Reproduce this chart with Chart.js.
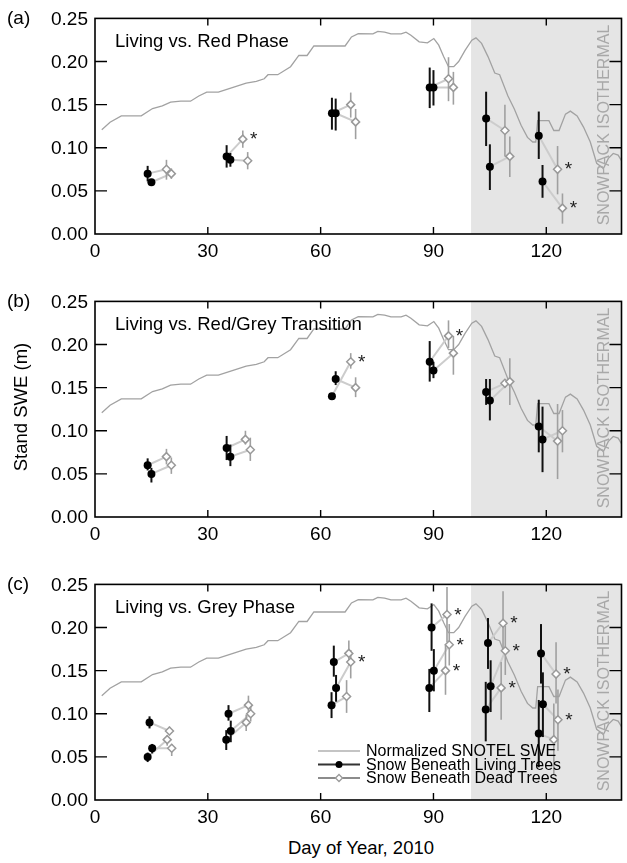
<!DOCTYPE html>
<html><head><meta charset="utf-8">
<script src="https://cdn.jsdelivr.net/npm/chart.js@4.4.1/dist/chart.umd.min.js"></script>
<style>
html,body{margin:0;padding:0;background:#fff;}
body{width:627px;height:863px;position:relative;overflow:hidden;font-family:"Liberation Sans",Arial,Helvetica,sans-serif;color:#000;}
canvas{position:absolute;left:0;}
.lbl{position:absolute;font-size:18.5px;line-height:18px;white-space:nowrap;}
.pl{position:absolute;font-size:19px;line-height:18px;white-space:nowrap;}
.rot{position:absolute;white-space:nowrap;transform:translate(-50%,-50%) rotate(-90deg);line-height:1;}
.ctr{position:absolute;white-space:nowrap;transform:translate(-50%,-50%);line-height:1;}
</style></head><body>
<canvas id="ca" width="627" height="263" style="top:0px"></canvas>
<canvas id="cb" width="627" height="263" style="top:283px"></canvas>
<canvas id="cc" width="627" height="263" style="top:566px"></canvas>

<div class="pl" style="left:7px;top:9px">(a)</div>
<div class="pl" style="left:7px;top:292px">(b)</div>
<div class="pl" style="left:7px;top:575px">(c)</div>
<div class="lbl" style="left:115px;top:32px">Living vs. Red Phase</div>
<div class="lbl" style="left:115px;top:315px">Living vs. Red/Grey Transition</div>
<div class="lbl" style="left:115px;top:598px">Living vs. Grey Phase</div>
<div class="rot" style="left:604px;top:125px;font-size:16px;color:#a8a8a8">SNOWPACK ISOTHERMAL</div>
<div class="rot" style="left:604px;top:408px;font-size:16px;color:#a8a8a8">SNOWPACK ISOTHERMAL</div>
<div class="rot" style="left:604px;top:691px;font-size:16px;color:#a8a8a8">SNOWPACK ISOTHERMAL</div>
<div class="rot" style="left:21px;top:407px;font-size:18.5px">Stand SWE (m)</div>
<div class="ctr" style="left:361px;top:848px;font-size:18.5px">Day of Year, 2010</div>

<script>
// ---------- axes ----------
const xTickValues = [0, 30, 60, 90, 120];
const xTickLabels = ['0', '30', '60', '90', '120'];
const yTickValues = [0, 0.05, 0.10, 0.15, 0.20, 0.25];
const yTickLabels = ['0.00', '0.05', '0.10', '0.15', '0.20', '0.25'];
const xMin = 0, xMax = 140, yMin = 0, yMax = 0.25;
const isothermalStartDay = 100;

// ---------- Normalized SNOTEL SWE (same in all panels) ----------
const snotelDay = [1.8, 4, 7, 12.3, 15.3, 17.9, 20.1, 22.8, 25.4, 27.6, 29.7, 32.8, 36.3, 40.2, 42.9, 45, 46, 48.6, 52, 54.2, 56.4, 58.2, 60.5, 66.5, 68.2, 70, 73.9, 75.2, 77, 78.7, 81.4, 82.7, 84, 86.2, 88.4, 90.1, 91.4, 92.7, 94, 95.4, 96.7, 98.4, 100.2, 101.3, 102.8, 104.5, 106.3, 107.6, 109.8, 111.5, 113.3, 115, 116.4, 117.2, 117.7, 120.7, 122, 123.4, 125.1, 126.4, 128.2, 129.9, 131.7, 133.4, 135.2, 136.5, 137.8, 139.1, 140];
const snotelSWE = [0.121, 0.1296, 0.137, 0.137, 0.1455, 0.1486, 0.153, 0.154, 0.154, 0.16, 0.1646, 0.1646, 0.1695, 0.175, 0.177, 0.18, 0.1847, 0.1847, 0.194, 0.207, 0.207, 0.218, 0.218, 0.218, 0.2285, 0.2323, 0.232, 0.235, 0.234, 0.232, 0.232, 0.234, 0.2305, 0.2228, 0.2217, 0.2266, 0.219, 0.2057, 0.194, 0.194, 0.2, 0.213, 0.2247, 0.2274, 0.221, 0.2057, 0.1866, 0.1847, 0.16, 0.145, 0.126, 0.112, 0.1067, 0.1067, 0.1315, 0.1315, 0.12, 0.12, 0.139, 0.1425, 0.137, 0.124, 0.1067, 0.082, 0.076, 0.0877, 0.0934, 0.0915, 0.085];

// ---------- (a) Living vs. Red Phase ----------
const aLivingDay = [14, 15, 35, 36, 63, 64, 89, 90, 104, 105, 118, 119];
const aLivingSWE = [0.070, 0.060, 0.090, 0.086, 0.140, 0.140, 0.170, 0.170, 0.134, 0.078, 0.114, 0.061];
const aLivingLo  = [0.061, 0.057, 0.077, 0.078, 0.121, 0.120, 0.146, 0.149, 0.102, 0.051, 0.087, 0.042];
const aLivingHi  = [0.079, 0.063, 0.103, 0.094, 0.158, 0.157, 0.193, 0.190, 0.165, 0.104, 0.142, 0.080];
const aDeadDay   = [19, 20.3, 39.3, 40.6, 68, 69.3, 94, 95.3, 109, 110.3, 123, 124.3];
const aDeadSWE   = [0.075, 0.070, 0.110, 0.085, 0.150, 0.130, 0.180, 0.170, 0.120, 0.090, 0.075, 0.030];
const aDeadLo    = [0.063, 0.064, 0.100, 0.075, 0.135, 0.110, 0.154, 0.150, 0.090, 0.066, 0.046, 0.012];
const aDeadHi    = [0.086, 0.076, 0.120, 0.095, 0.164, 0.145, 0.205, 0.188, 0.150, 0.113, 0.102, 0.047];
const aDeadSig   = [0, 0, 1, 0, 0, 0, 0, 0, 0, 0, 1, 1];

// ---------- (b) Living vs. Red/Grey Transition ----------
const bLivingDay = [14, 15, 35, 36, 63, 64, 89, 90, 104, 105, 118, 119];
const bLivingSWE = [0.060, 0.050, 0.080, 0.070, 0.140, 0.160, 0.180, 0.170, 0.145, 0.135, 0.105, 0.090];
const bLivingLo  = [0.054, 0.040, 0.066, 0.059, 0.138, 0.153, 0.157, 0.161, 0.130, 0.112, 0.075, 0.052];
const bLivingHi  = [0.068, 0.057, 0.094, 0.084, 0.142, 0.169, 0.204, 0.180, 0.160, 0.160, 0.136, 0.128];
const bDeadDay   = [19, 20.3, 40, 41.3, 68, 69.3, 94, 95.3, 109, 110.3, 123, 124.3];
const bDeadSWE   = [0.070, 0.060, 0.090, 0.078, 0.180, 0.150, 0.210, 0.190, 0.155, 0.157, 0.088, 0.100];
const bDeadLo    = [0.061, 0.050, 0.084, 0.065, 0.172, 0.139, 0.196, 0.165, 0.150, 0.130, 0.044, 0.075];
const bDeadHi    = [0.079, 0.069, 0.100, 0.092, 0.190, 0.162, 0.228, 0.210, 0.160, 0.184, 0.131, 0.124];
const bDeadSig   = [0, 0, 0, 0, 1, 0, 1, 0, 0, 0, 0, 0];

// ---------- (c) Living vs. Grey Phase ----------
const cLivingDay = [14, 14.5, 15.2, 34.9, 35.5, 36.1, 62.9, 63.5, 64.1, 88.9, 89.5, 90.1, 103.9, 104.5, 105.2, 118, 118.6, 119.1];
const cLivingSWE = [0.050, 0.090, 0.060, 0.070, 0.100, 0.080, 0.110, 0.160, 0.130, 0.130, 0.200, 0.150, 0.105, 0.182, 0.132, 0.077, 0.170, 0.111];
const cLivingLo  = [0.044, 0.083, 0.054, 0.058, 0.092, 0.067, 0.095, 0.143, 0.114, 0.102, 0.173, 0.126, 0.068, 0.152, 0.102, 0.038, 0.135, 0.073];
const cLivingHi  = [0.055, 0.097, 0.065, 0.081, 0.110, 0.092, 0.125, 0.179, 0.145, 0.152, 0.228, 0.175, 0.137, 0.211, 0.162, 0.116, 0.204, 0.148];
const cDeadDay   = [19.2, 19.8, 20.4, 40.2, 40.8, 41.4, 66.9, 67.5, 68, 93.2, 93.6, 94.2, 108, 108.5, 109.1, 122, 122.6, 123.1];
const cDeadSWE   = [0.070, 0.080, 0.060, 0.090, 0.110, 0.100, 0.120, 0.170, 0.160, 0.150, 0.215, 0.180, 0.130, 0.205, 0.173, 0.070, 0.146, 0.093];
const cDeadLo    = [0.063, 0.075, 0.051, 0.080, 0.101, 0.091, 0.101, 0.156, 0.141, 0.122, 0.183, 0.156, 0.093, 0.171, 0.145, 0.030, 0.112, 0.057];
const cDeadHi    = [0.075, 0.085, 0.065, 0.099, 0.121, 0.110, 0.139, 0.185, 0.174, 0.180, 0.247, 0.204, 0.160, 0.242, 0.202, 0.112, 0.183, 0.128];
const cDeadSig   = [0, 0, 0, 0, 0, 0, 0, 0, 1, 1, 1, 1, 1, 1, 1, 0, 1, 1];

// ---------- styling ----------
const FONT = '"Liberation Sans", Arial, Helvetica, sans-serif';
const snotelColor = '#a2a2a2';
const pairColor = '#cccccc';
const livingColor = '#000000';
const deadColor = '#999999';
const shadeColor = '#e5e5e5';
Chart.defaults.font.family = FONT;
Chart.defaults.color = '#000';

const pts = (xs, ys) => xs.map((v, i) => ({x: v, y: ys[i]}));

const shadePlugin = {
  id: 'shade',
  beforeDraw(chart) {
    const {ctx, chartArea: ca, scales: {x}} = chart;
    const x0 = x.getPixelForValue(isothermalStartDay);
    ctx.save();
    ctx.fillStyle = shadeColor;
    ctx.fillRect(x0, ca.top, ca.right - x0, ca.bottom - ca.top);
    ctx.restore();
  }
};

const errPlugin = {
  id: 'errbars',
  beforeDatasetDraw(chart, args) {
    const ds = chart.data.datasets[args.index];
    if (ds.role !== 'living') return;
    const {ctx, scales: {x, y}} = chart;
    const groups = chart.data.datasets.filter(d => d.role === 'dead' || d.role === 'living');
    ctx.save();
    groups.forEach(g => {
      ctx.strokeStyle = g.role === 'living' ? '#111' : '#a0a0a0';
      ctx.lineWidth = g.role === 'living' ? 2 : 1.6;
      g.data.forEach((p, i) => {
        const px = x.getPixelForValue(p.x);
        ctx.beginPath();
        ctx.moveTo(px, y.getPixelForValue(g.errLo[i]));
        ctx.lineTo(px, y.getPixelForValue(g.errHi[i]));
        ctx.stroke();
      });
    });
    ctx.restore();
  }
};

const starPlugin = {
  id: 'stars',
  afterDatasetsDraw(chart) {
    const {ctx, scales: {x, y}} = chart;
    const dead = chart.data.datasets.find(d => d.role === 'dead');
    ctx.save();
    ctx.fillStyle = '#222';
    ctx.font = '19px ' + FONT;
    ctx.textAlign = 'center';
    ctx.textBaseline = 'alphabetic';
    dead.data.forEach((p, i) => {
      if (!dead.sig[i]) return;
      const px = x.getPixelForValue(p.x) + 11;
      const py = y.getPixelForValue(p.y) - 5;
      ctx.fillText('*', px, py + 11);
    });
    ctx.restore();
  }
};

const framePlugin = {
  id: 'frame',
  afterDraw(chart) {
    const {ctx, chartArea: ca, scales: {x, y}} = chart;
    ctx.save();
    ctx.strokeStyle = '#000';
    ctx.lineWidth = 1.6;
    ctx.strokeRect(ca.left, ca.top, ca.right - ca.left, ca.bottom - ca.top);
    ctx.lineWidth = 1.4;
    ctx.beginPath();
    x.ticks.forEach(t => {
      const px = x.getPixelForValue(t.value);
      if (px <= ca.left + 1 || px >= ca.right - 1) return;
      ctx.moveTo(px, ca.bottom); ctx.lineTo(px, ca.bottom - 7);
      ctx.moveTo(px, ca.top); ctx.lineTo(px, ca.top + 7);
    });
    y.ticks.forEach(t => {
      const py = y.getPixelForValue(t.value);
      if (py >= ca.bottom - 1 || py <= ca.top + 1) return;
      ctx.moveTo(ca.left, py); ctx.lineTo(ca.left + 12, py);
      ctx.moveTo(ca.right, py); ctx.lineTo(ca.right - 12, py);
    });
    ctx.stroke();
    ctx.restore();
  }
};

const legendPlugin = {
  id: 'customLegend',
  afterDatasetsDraw(chart, args, opts) {
    if (!opts.show) return;
    const {ctx, chartArea: ca} = chart;
    const x0 = ca.left + 223, x1 = ca.left + 265, tx = ca.left + 271;
    const rows = [ca.bottom - 49, ca.bottom - 35.5, ca.bottom - 22];
    const items = chart.data.datasets.filter(d => d.inLegend);
    ctx.save();
    ctx.font = '16px ' + FONT;
    ctx.textBaseline = 'middle';
    ctx.textAlign = 'left';
    items.forEach((d, i) => {
      const yy = rows[i];
      ctx.strokeStyle = d.legendLine;
      ctx.lineWidth = d.legendWidth;
      ctx.beginPath(); ctx.moveTo(x0, yy); ctx.lineTo(x1, yy); ctx.stroke();
      if (d.role === 'living') {
        ctx.fillStyle = '#000';
        ctx.beginPath(); ctx.arc((x0 + x1) / 2, yy, 3.5, 0, Math.PI * 2); ctx.fill();
      } else if (d.role === 'dead') {
        const cx = (x0 + x1) / 2, r = 3.5;
        ctx.fillStyle = '#fff'; ctx.strokeStyle = deadColor; ctx.lineWidth = 1.3;
        ctx.beginPath(); ctx.moveTo(cx, yy - r); ctx.lineTo(cx + r, yy); ctx.lineTo(cx, yy + r); ctx.lineTo(cx - r, yy); ctx.closePath();
        ctx.fill(); ctx.stroke();
      }
      ctx.fillStyle = '#000';
      ctx.fillText(d.label, tx, yy + 1);
    });
    ctx.restore();
  }
};

function buildPanel(id, lDay, lSWE, lLo, lHi, dDay, dSWE, dLo, dHi, dSig, showLegend) {
  const datasets = [];
  datasets.push({
    label: 'Normalized SNOTEL SWE', inLegend: true, legendLine: '#b0b0b0', legendWidth: 1.5,
    showLine: true, data: pts(snotelDay, snotelSWE), borderColor: snotelColor, borderWidth: 1.3,
    pointRadius: 0, order: 10
  });
  lDay.forEach((d, i) => {
    datasets.push({
      label: 'pair', showLine: true,
      data: [{x: d, y: lSWE[i]}, {x: dDay[i], y: dSWE[i]}],
      borderColor: pairColor, borderWidth: 2, pointRadius: 0, order: 9
    });
  });
  datasets.push({
    label: 'Snow Beneath Living Trees', role: 'living', inLegend: true, legendLine: '#333', legendWidth: 2,
    data: pts(lDay, lSWE), errLo: lLo, errHi: lHi,
    pointStyle: 'circle', pointRadius: 4, backgroundColor: livingColor, borderColor: livingColor, borderWidth: 0, order: 2
  });
  datasets.push({
    label: 'Snow Beneath Dead Trees', role: 'dead', inLegend: true, legendLine: '#8c8c8c', legendWidth: 2,
    data: pts(dDay, dSWE), errLo: dLo, errHi: dHi, sig: dSig,
    pointStyle: 'rectRot', pointRadius: 4, backgroundColor: '#fff', borderColor: deadColor, borderWidth: 1.5, order: 1
  });

  return new Chart(document.getElementById(id), {
    type: 'scatter',
    data: {datasets},
    options: {
      responsive: false, animation: false, devicePixelRatio: 1, events: [],
      layout: {padding: {top: 15, right: 1, left: 0, bottom: 0}},
      plugins: {legend: {display: false}, tooltip: {enabled: false}, customLegend: {show: showLegend}},
      scales: {
        x: {
          type: 'linear', min: xMin, max: xMax,
          grid: {display: false, drawTicks: false}, border: {display: false},
          afterBuildTicks: s => { s.ticks = xTickValues.map(v => ({value: v})); },
          afterFit: s => { s.height = 29; },
          ticks: {padding: 6, font: {size: 19}, color: '#000', maxRotation: 0, autoSkip: false,
                  callback: (v, i) => xTickLabels[i]}
        },
        y: {
          min: yMin, max: yMax,
          grid: {display: false, drawTicks: false}, border: {display: false},
          afterBuildTicks: s => { s.ticks = yTickValues.map(v => ({value: v})); },
          afterFit: s => { s.width = 95; },
          ticks: {padding: 7, font: {size: 19}, color: '#000', autoSkip: false, labelOffset: 1,
                  callback: (v, i) => yTickLabels[i]}
        }
      }
    },
    plugins: [shadePlugin, errPlugin, starPlugin, framePlugin, legendPlugin]
  });
}

buildPanel('ca', aLivingDay, aLivingSWE, aLivingLo, aLivingHi, aDeadDay, aDeadSWE, aDeadLo, aDeadHi, aDeadSig, false);
buildPanel('cb', bLivingDay, bLivingSWE, bLivingLo, bLivingHi, bDeadDay, bDeadSWE, bDeadLo, bDeadHi, bDeadSig, false);
buildPanel('cc', cLivingDay, cLivingSWE, cLivingLo, cLivingHi, cDeadDay, cDeadSWE, cDeadLo, cDeadHi, cDeadSig, true);
</script>
</body></html>
